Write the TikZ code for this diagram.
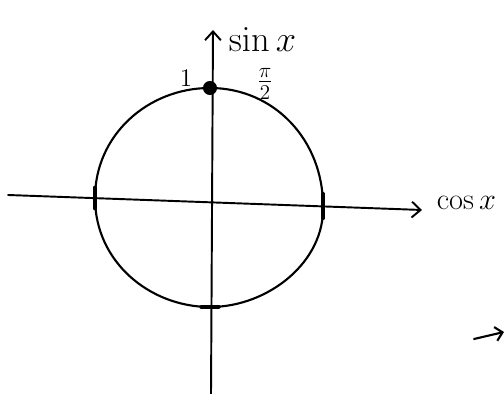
\documentclass[tikz,border=0pt]{standalone}
\usepackage{xcolor}
\usepackage{tikz}
\usetikzlibrary{arrows.meta}
\usepackage{amssymb}

\begin{document}
\begin{tikzpicture}[x=0.02cm,y=-0.02cm,line width=1.2pt,line cap=round]
\tikzset{axisline/.style={line width=1.1pt,-{Straight Barb[length=5pt,width=9pt]}},
  tickmark/.style={line width=2pt}}
\useasboundingbox (0,0) rectangle (504,394);
% axes
\coordinate (xstart) at (8,195);
\coordinate (xend) at (422,210);
\coordinate (ystart) at (211,394);
\coordinate (yend) at (213,30);
\draw[axisline] (xstart) -- (xend);
\draw[axisline] (ystart) -- (yend);
\node[right] (cosx) at (430,203) {\LARGE$\cos x$};
\node[right] (sinx) at (222,40) {\huge$\sin x$};
% the circle
\coordinate (top) at (210,88);
\coordinate (left) at (95,198);
\coordinate (right) at (323,206);
\coordinate (bottom) at (210,307);
\draw (top) .. controls (274,88) and (323,140) .. (right)
  .. controls (325,262) and (268,307) .. (bottom)
  .. controls (150,307) and (95,262) .. (left)
  .. controls (95,135) and (148,88) .. (top);
\fill (top) circle (4pt);
\draw[tickmark] ([yshift=-6]left) -- ([yshift=6]left);
\draw[tickmark] ([yshift=-7]right) -- ([yshift=7]right);
\draw[tickmark] ([xshift=-5]bottom) -- ([xshift=5]bottom);
\node (one) at (186,78) {\Large$1$};
\node (halfpi) at (265,84) {\LARGE$\frac{\pi}{2}$};
% stray arrow
\coordinate (sa) at (474,339);
\coordinate (sb) at (504,332);
\draw[-{Straight Barb[length=4pt,width=8pt]}] (sa) -- (sb);
\end{tikzpicture}
\end{document}
